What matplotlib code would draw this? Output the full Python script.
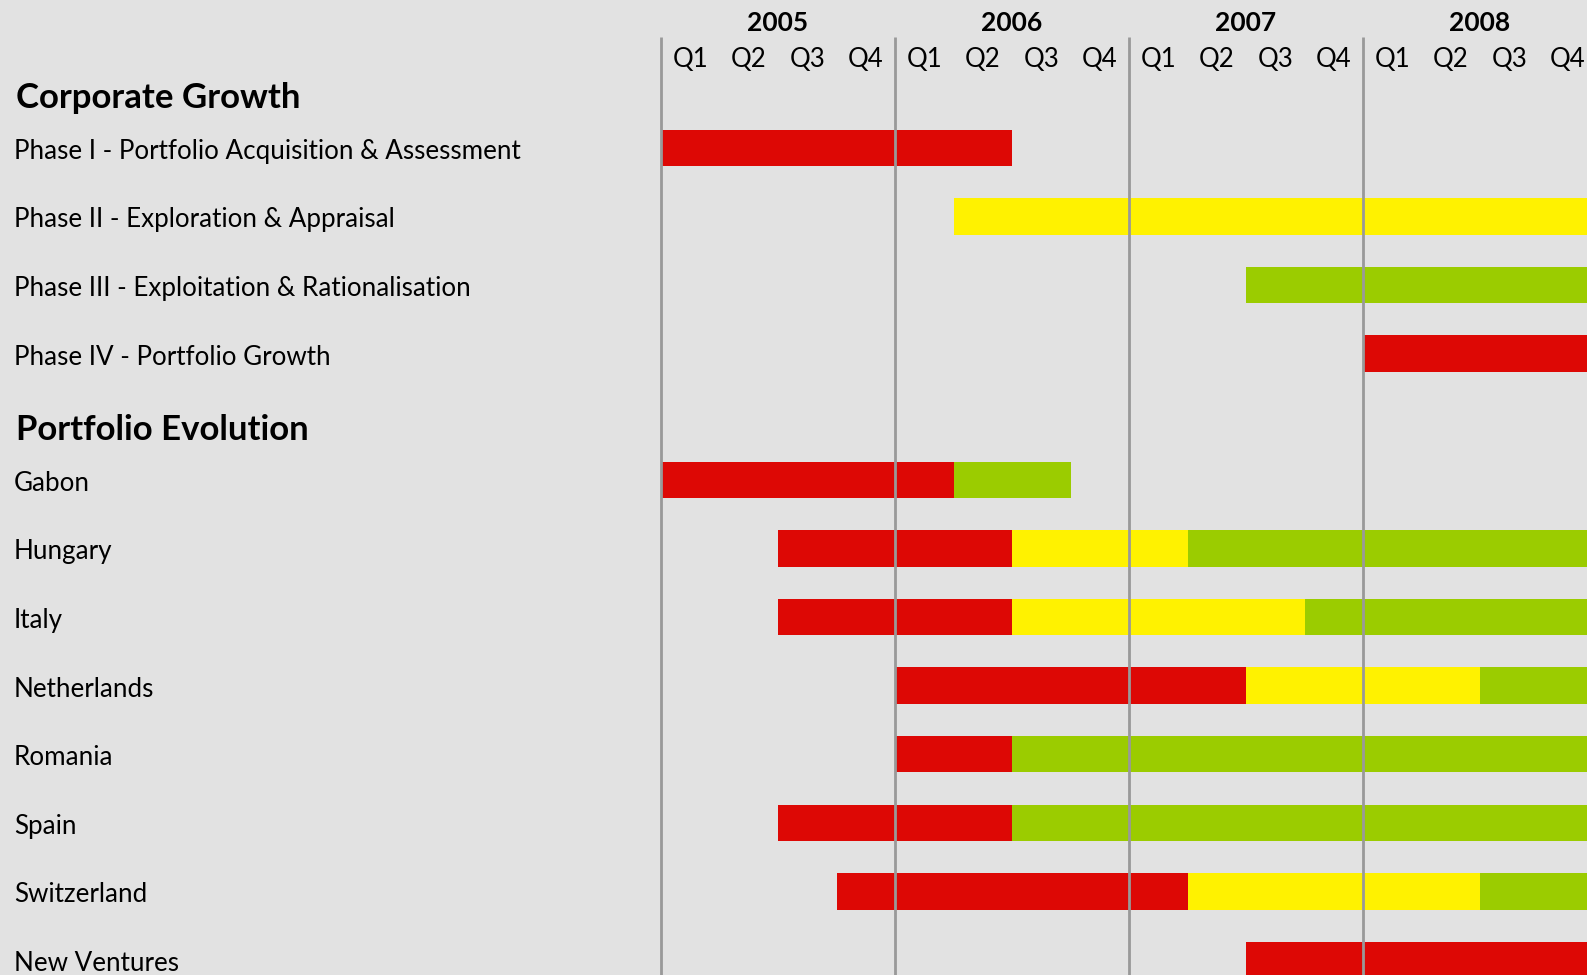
import matplotlib.pyplot as plt
from matplotlib.patches import Rectangle

# data ---------------------------------------------------------------
years = ['2005', '2006', '2007', '2008']
quarters = ['Q1', 'Q2', 'Q3', 'Q4']

group_titles = ['Corporate Growth', 'Portfolio Evolution']

phase_names = ['Phase I - Portfolio Acquisition & Assessment',
               'Phase II - Exploration & Appraisal',
               'Phase III - Exploitation & Rationalisation',
               'Phase IV - Portfolio Growth']
# segments: (start quarter, end quarter, status) ; quarter 0 = 2005 Q1
phase_segments = [
    [(0, 6, 'red')],
    [(5, 16, 'yellow')],
    [(10, 16, 'green')],
    [(12, 16, 'red')],
]

country_names = ['Gabon', 'Hungary', 'Italy', 'Netherlands', 'Romania',
                 'Spain', 'Switzerland', 'New Ventures']
country_segments = [
    [(0, 5, 'red'), (5, 7, 'green')],
    [(2, 6, 'red'), (6, 9, 'yellow'), (9, 16, 'green')],
    [(2, 6, 'red'), (6, 11, 'yellow'), (11, 16, 'green')],
    [(4, 10, 'red'), (10, 14, 'yellow'), (14, 16, 'green')],
    [(4, 6, 'red'), (6, 16, 'green')],
    [(2, 6, 'red'), (6, 16, 'green')],
    [(3, 9, 'red'), (9, 14, 'yellow'), (14, 16, 'green')],
    [(10, 16, 'red')],
]

status_colors = {'red': '#DD0805', 'yellow': '#FFF200', 'green': '#9BCC00'}
BG = '#E2E2E2'

plt.rcParams['font.family'] = ['Lato', 'DejaVu Sans']

W, H = 1587, 975
fig = plt.figure(figsize=(W / 100, H / 100), dpi=100, facecolor=BG)
ax = fig.add_axes([0, 0, 1, 1])
ax.set_facecolor(BG)

# x in quarters, y in rows (0 = first phase row)
x0_px, q_px = 661, 58.5
row0_px, row_px = 147.8, 68.6
ax.set_xlim(-x0_px / q_px, (W - x0_px) / q_px)
ax.set_ylim((H - row0_px) / row_px, -row0_px / row_px)
ax.axis('off')

bar_h = 0.53
country_offset = 4.84
dy = 0.05  # small nudge so text sits like the reference

def draw_row(y, name, segs):
    for s, e, c in segs:
        ax.add_patch(Rectangle((s, y - bar_h / 2), e - s, bar_h,
                               facecolor=status_colors[c], edgecolor='none',
                               zorder=2))
    ax.text(-x0_px / q_px + 14 / q_px, y + dy, name, fontsize=18.7,
            va='center', ha='left', color='black')

for i, (name, segs) in enumerate(zip(phase_names, phase_segments)):
    draw_row(i, name, segs)
for i, (name, segs) in enumerate(zip(country_names, country_segments)):
    draw_row(country_offset + i, name, segs)

ax.text(-x0_px / q_px + 16 / q_px, -0.78 + dy, group_titles[0], fontsize=25,
        fontweight='bold', va='center', ha='left')
ax.text(-x0_px / q_px + 16 / q_px, 4.07 + dy, group_titles[1], fontsize=25,
        fontweight='bold', va='center', ha='left')

# year dividers and header labels
line_top = -1.61
for k, yr in enumerate(years):
    ax.plot([4 * k, 4 * k], [line_top, 20], color='#999999', lw=2,
            zorder=3, solid_capstyle='butt')
    ax.text(4 * k + 2, -1.845 + dy * 0.6, yr, fontsize=19, fontweight='bold',
            ha='center', va='center')
    for j, q in enumerate(quarters):
        ax.text(4 * k + j + 0.5, -1.31 + dy * 0.6, q, fontsize=18.5,
                ha='center', va='center')

fig.savefig('out.png', dpi=100, facecolor=BG)
